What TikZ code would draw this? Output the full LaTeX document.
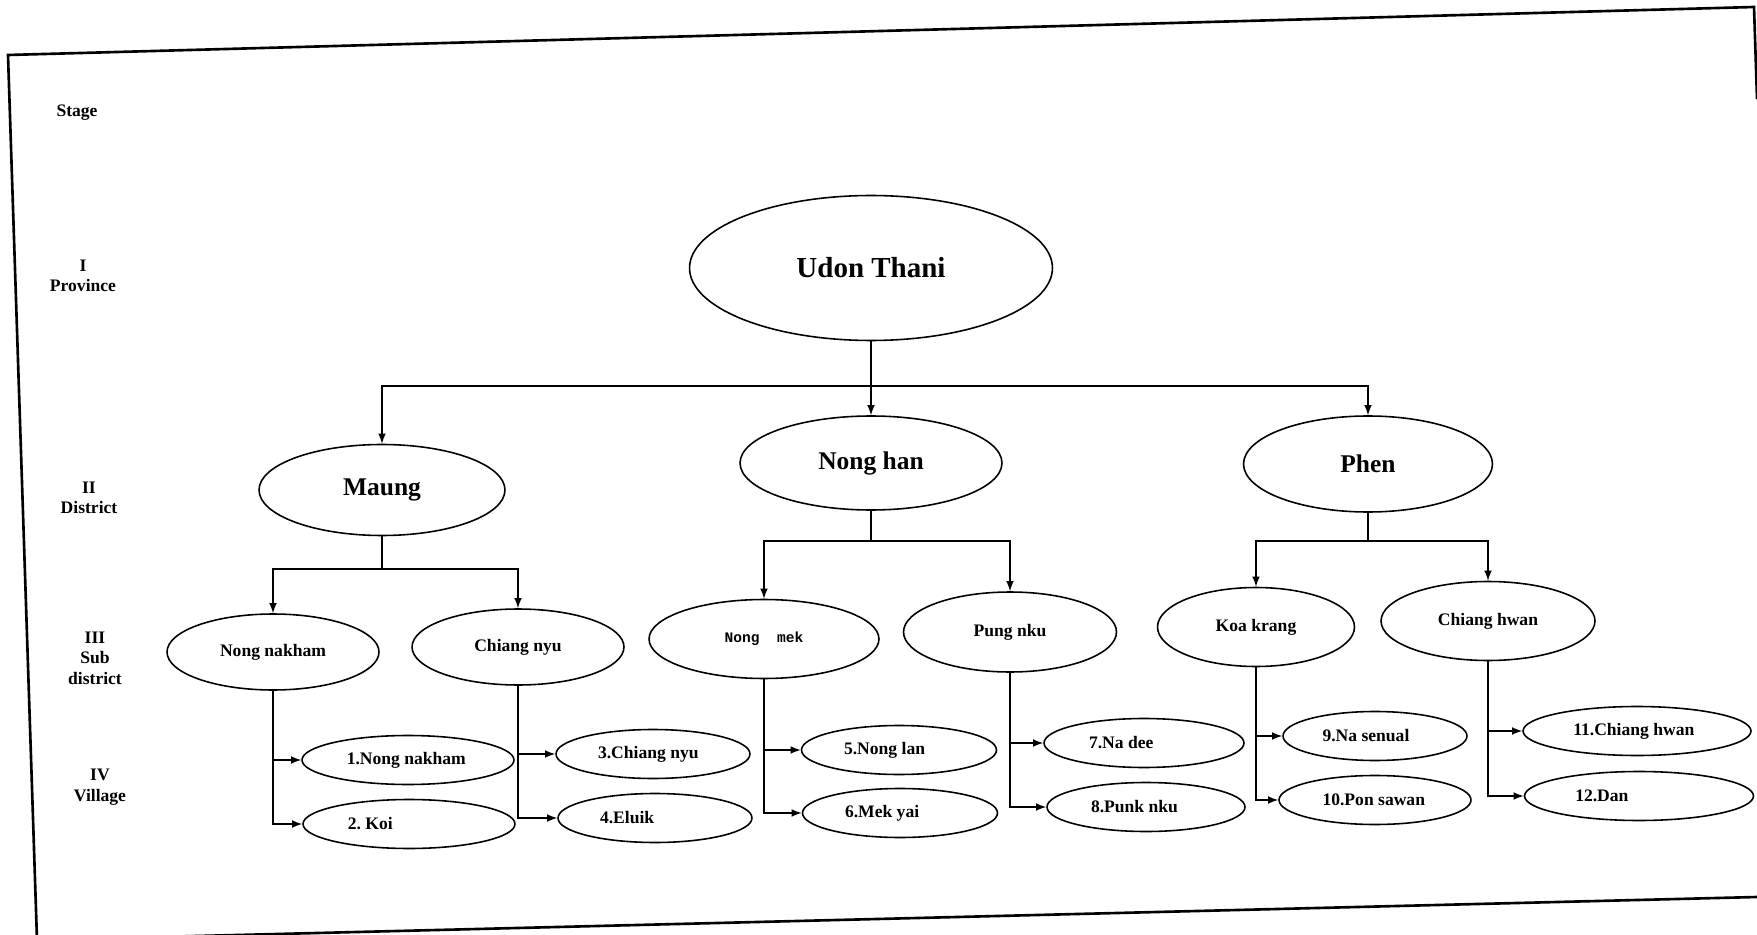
\documentclass[tikz,border=0pt]{standalone}
\usepackage{fontspec}
\setmainfont{Liberation Serif}
\newfontfamily\monofont{Liberation Mono}
\usetikzlibrary{shapes.geometric, arrows, positioning, calc}

\begin{document}
\begin{tikzpicture}[x=0.02cm, y=-0.02cm,
    oval/.style={ellipse, draw, line width=0.9pt, inner sep=0pt},
    province/.style={oval, font=\fontsize{16.5}{19}\selectfont\bfseries},
    district/.style={oval, font=\fontsize{14.5}{17}\selectfont\bfseries},
    subdistrict/.style={oval, font=\fontsize{10}{12}\selectfont\bfseries},
    village/.style={oval, minimum height=0.98cm, align=flush left,
        font=\fontsize{10}{12}\selectfont\bfseries\frenchspacing},
    stage/.style={align=center, font=\fontsize{10}{11.7}\selectfont\bfseries},
    link/.style={->, >=latex, line width=1pt},
    trunk/.style={line width=1pt}]

\useasboundingbox (0,0) rectangle (1757,935);

% Page frame (the scan sits a little askew)
\draw[line width=1.5pt] (1757,897) -- (37,940) -- (8,55) -- (1754,7) -- (1757,99);

% Stage column
\node[stage] (stage) at (77,113) {Stage};
\node[stage] (lvl1) at (83,276) {I\\Province};
\node[stage] (lvl2) at (89,498) {II\\District};
\node[stage] (lvl3) at (95,658) {III\\Sub\\district};
\node[stage] (lvl4) at (100,787) {IV\\Village};

% Province
\node[province, minimum width=7.26cm, minimum height=2.9cm] (udon) at (871,268) {Udon Thani};

% Districts
\node[district, minimum width=4.92cm, minimum height=1.82cm] (maung) at (382,490) {Maung};
\node[district, minimum width=5.24cm, minimum height=1.88cm] (nonghan) at (871,463) {Nong han};
\node[district, minimum width=4.98cm, minimum height=1.92cm] (phen) at (1368,464) {Phen};

% Sub districts
\node[subdistrict, minimum width=4.24cm, minimum height=1.52cm] (nongnakham) at (273,652) {Nong nakham};
\node[subdistrict, minimum width=4.24cm, minimum height=1.52cm] (chiangnyu) at (518,647) {Chiang nyu};
\node[subdistrict, minimum width=4.6cm, minimum height=1.58cm,
      font=\fontsize{8.3}{10}\monofont\bfseries] (nongmek) at (764,639) {Nong\ \ mek};
\node[subdistrict, minimum width=4.26cm, minimum height=1.6cm] (pungnku) at (1010,632) {Pung nku};
\node[subdistrict, minimum width=3.94cm, minimum height=1.58cm] (koakrang) at (1256,627) {Koa krang};
\node[subdistrict, minimum width=4.28cm, minimum height=1.58cm] (chianghwan) at (1488,621) {Chiang hwan};

% Villages
\foreach \n/\x/\y/\w/\tw/\txt in {
    1/408/760/4.24cm/2.45cm/{1.Nong nakham},
    2/409/824/4.24cm/2.45cm/{2. Koi},
    3/653/754/3.88cm/2.2cm/{3.Chiang nyu},
    4/655/818/3.88cm/2.2cm/{4.Eluik},
    5/899/750/3.9cm/2.2cm/{5.Nong lan},
    6/900/813/3.9cm/2.2cm/{6.Mek yai},
    7/1144/743/4cm/2.2cm/{7.Na dee},
    8/1146/807/3.96cm/2.2cm/{8.Punk nku},
    9/1375/736/3.68cm/2.1cm/{9.Na senual},
    10/1375/800/3.84cm/2.1cm/{10.Pon sawan},
    11/1637/731/4.56cm/2.55cm/{11.Chiang hwan},
    12/1639/796/4.58cm/2.55cm/{12.Dan}} {
    \node[village, minimum width=\w, text width=\tw] (v\n) at (\x,\y) {\txt};
}

% Province -> districts
\coordinate (bus1) at (871,386);
\draw[link] (udon) -- (nonghan);
\draw[link] (bus1) -| (maung);
\draw[link] (bus1) -| (phen);

% Districts -> sub districts
\coordinate (bus2) at (382,569);
\coordinate (bus3) at (871,541);
\coordinate (bus4) at (1368,541);
\foreach \dist/\bus/\a/\b in {maung/bus2/nongnakham/chiangnyu,
    nonghan/bus3/nongmek/pungnku, phen/bus4/koakrang/chianghwan} {
    \draw[trunk] (\dist) -- (\bus);
    \draw[link] (\bus) -| (\a);
    \draw[link] (\bus) -| (\b);
}

% Sub districts -> villages
\foreach \sub/\a/\b in {nongnakham/1/2, chiangnyu/3/4, nongmek/5/6,
    pungnku/7/8, koakrang/9/10, chianghwan/11/12} {
    \draw[link] (\sub) |- (v\a);
    \draw[link] (\sub) |- (v\b);
}
\end{tikzpicture}
\end{document}
